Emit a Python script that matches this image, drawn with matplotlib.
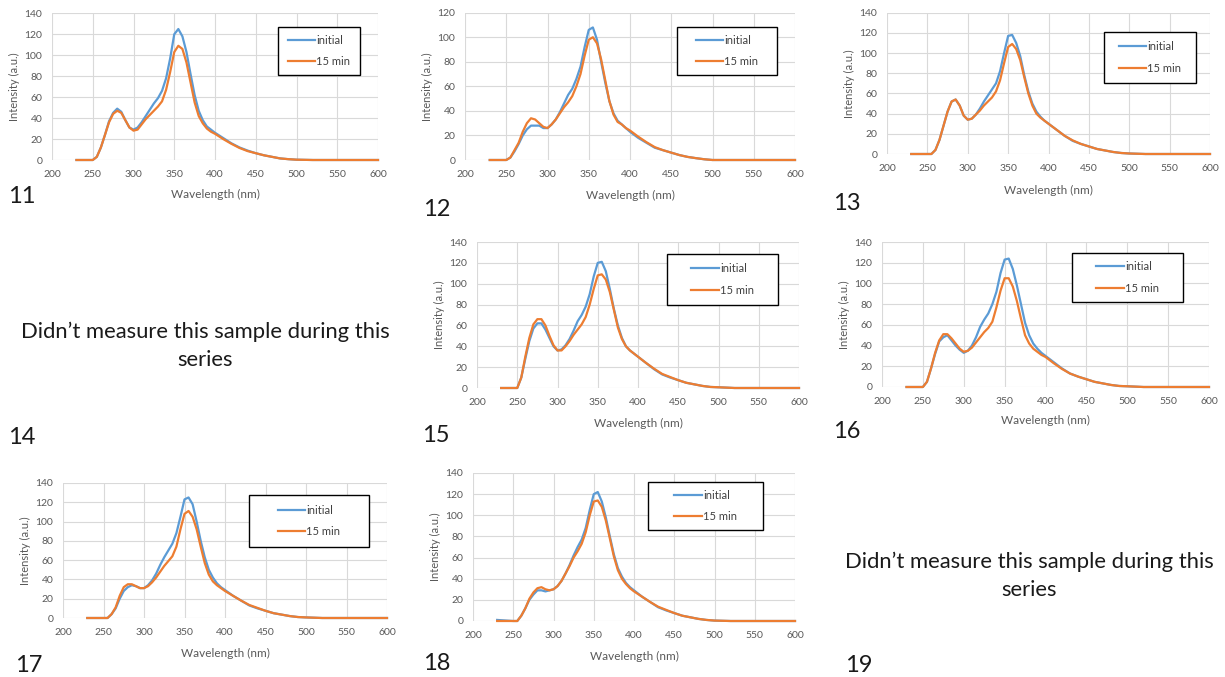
import matplotlib
matplotlib.use("Agg")
import matplotlib.pyplot as plt
from matplotlib.patches import Rectangle

plt.rcParams['font.family'] = ['Lato', 'DejaVu Sans']

W, H = 1225, 677
DPI = 100

# ---------------- data ----------------
wl = [230, 250, 255, 260, 265, 270, 275, 280, 285, 290, 295, 300, 305, 310, 315,
      320, 325, 330, 335, 340, 345, 350, 355, 360, 365, 370, 375, 380, 385, 390,
      395, 400, 410, 420, 430, 440, 450, 460, 470, 480, 490, 500, 520, 600]

s11_initial = [0, 0, 3, 12, 24, 37, 45, 49, 46, 38, 31, 29, 31, 36, 42,
               48, 54, 59, 66, 78, 97, 120, 125, 118, 103, 82, 62, 47, 38, 32,
               29, 26, 21, 16, 12, 9, 6.5, 4.5, 3, 1.5, 0.8, 0.3, 0, 0]
s11_15min = [0, 0, 3, 12, 24, 36, 44, 47, 45, 38, 31, 28, 29, 34, 39,
             43, 47, 51, 56, 67, 84, 103, 109, 106, 93, 74, 55, 42, 35, 30,
             27, 25, 20, 15.5, 11.5, 8.5, 6.5, 4.5, 3, 1.5, 0.8, 0.3, 0, 0]

s12_initial = [0, 0, 2, 7, 13, 20, 25, 28, 28, 28, 26, 26, 29, 33, 39,
               46, 53, 58, 66, 76, 92, 106, 108, 98, 80, 63, 48, 38, 32, 29,
               26, 23, 18, 14, 10, 8, 6, 4, 2.5, 1.5, 0.6, 0, 0, 0]
s12_15min = [0, 0, 2, 8, 14, 23, 30, 34, 33, 30, 27, 26, 29, 33, 38,
             43, 47, 52, 60, 70, 85, 98, 100, 95, 82, 65, 48, 37, 31, 29,
             26, 24, 19, 14.5, 10.5, 8, 6, 4, 2.5, 1.5, 0.6, 0, 0, 0]

s13_initial = [0, 0, 0, 4, 14, 28, 42, 52, 54, 48, 38, 34, 35, 39, 45,
               52, 58, 64, 70, 82, 100, 117, 118, 110, 97, 78, 62, 50, 42, 37,
               33, 30, 24, 18, 13, 10, 7.5, 5, 3.5, 2, 1, 0.5, 0, 0]
s13_15min = [0, 0, 0, 4, 14, 28, 42, 52, 54, 48, 38, 34, 35, 39, 43,
             48, 52, 56, 62, 73, 90, 106, 109, 104, 93, 76, 60, 48, 40, 36,
             33, 30, 24, 18, 13.5, 10, 7.5, 5, 3.5, 2, 1, 0.5, 0, 0]

s15_initial = [0, 0, 10, 28, 45, 57, 62, 62, 56, 48, 40, 36, 37, 41, 47,
               55, 64, 70, 78, 90, 107, 120, 121, 112, 95, 76, 60, 48, 40, 36,
               33, 30, 24, 18, 13, 10, 7.5, 5, 3.5, 2, 1, 0.7, 0, 0]
s15_15min = [0, 0, 10, 30, 48, 61, 66, 66, 60, 50, 41, 36, 36, 40, 45,
             51, 56, 61, 68, 80, 95, 108, 109, 104, 92, 75, 58, 47, 40, 36,
             33, 30, 24, 18.5, 13.5, 10.5, 7.5, 5, 3.5, 2, 1, 0.7, 0, 0]

s16_initial = [0, 0, 5, 18, 32, 44, 48, 50, 45, 40, 36, 33, 35, 40, 48,
               58, 65, 71, 80, 92, 110, 123, 124, 114, 98, 80, 62, 50, 42, 37,
               33, 30, 24, 18, 13, 10, 7.5, 5, 3.5, 2, 1, 0.7, 0, 0]
s16_15min = [0, 0, 5, 18, 33, 45, 51, 51, 47, 42, 37, 34, 35, 38, 43,
             48, 53, 57, 63, 77, 93, 105, 105, 97, 83, 66, 50, 42, 37, 34,
             31, 29, 23, 17.5, 13, 10, 7.5, 5, 3.5, 2, 1, 0.7, 0, 0]

s17_initial = [0, 0, 0, 4, 10, 20, 28, 32, 34, 33, 31, 31, 34, 39, 46,
               55, 63, 70, 77, 88, 105, 123, 125, 118, 100, 80, 63, 50, 42, 36,
               32, 29, 23, 18, 13, 10, 7.5, 5, 3.5, 2, 1, 0.6, 0, 0]
s17_15min = [0, 0, 0, 4, 11, 23, 32, 35, 35, 33, 31, 31, 33, 37, 42,
             48, 54, 59, 64, 74, 92, 108, 111, 105, 92, 74, 57, 45, 38, 34,
             31, 28, 23, 18, 13.5, 10.5, 7.5, 5, 3.5, 2, 1, 0.6, 0, 0]

s18_initial = [1, 0, 0, 5, 12, 20, 25, 29, 29, 28, 29, 30, 33, 38, 45,
               53, 62, 70, 77, 88, 105, 120, 122, 113, 98, 80, 63, 50, 42, 36,
               32, 29, 23, 18, 13, 10, 7.5, 5, 3.5, 2, 1, 0.4, 0, 0]
s18_15min = [0, 0, 0, 5, 12, 21, 27, 31, 32, 30, 29, 30, 33, 38, 45,
             52, 60, 66, 73, 84, 100, 113, 114, 108, 95, 78, 61, 48, 40, 35,
             31, 28, 23, 18, 13.5, 10.5, 7.5, 5, 3.5, 2, 1, 0.4, 0, 0]

sample_ids = ["11", "12", "13", "15", "16", "17", "18"]
series_initial = [s11_initial, s12_initial, s13_initial, s15_initial,
                  s16_initial, s17_initial, s18_initial]
series_15min = [s11_15min, s12_15min, s13_15min, s15_15min,
                s16_15min, s17_15min, s18_15min]
y_max = [140, 120, 140, 140, 140, 140, 140]
legend_labels = ["initial", "15 min"]
x_label = "Wavelength (nm)"
y_label = "Intensity (a.u.)"
missing_text = "Didn\u2019t measure this sample during this\nseries"
missing_ids = ["14", "19"]

# ---------------- layout (pixels) ----------------
axes_px = {
    "11": (52, 378, 13.3, 160),
    "12": (465, 795, 12.7, 160),
    "13": (887, 1210, 12.7, 154),
    "15": (477, 799, 242, 388),
    "16": (882, 1209, 242, 387),
    "17": (63, 387, 483, 618),
    "18": (473, 795, 473, 621),
}
legend_px = {
    "11": (278, 27, 360, 75),
    "12": (677, 27, 777, 75),
    "13": (1104, 32, 1196, 83),
    "15": (667, 254, 778, 305),
    "16": (1072, 253, 1183, 302),
    "17": (249, 495, 369, 547),
    "18": (648, 482, 763, 530),
}
num_px = {
    "11": (8, 196), "12": (423, 209), "13": (833, 204), "14": (8, 437),
    "15": (422, 436), "16": (833, 432), "17": (15, 665), "18": (423, 664),
    "19": (845, 665),
}
xlabel_y = {"11": 194, "12": 195, "13": 190, "15": 423, "16": 420,
            "17": 653, "18": 656}
missing_px = {"14": (205, 346), "19": (1029, 576)}

BLUE = "#5B9BD5"
ORANGE = "#ED7D31"
GRID = "#D9D9D9"
TXT = "#595959"

fig = plt.figure(figsize=(W / DPI, H / DPI), dpi=DPI)
fig.patch.set_facecolor("white")


def fx(x):
    return x / W


def fy(y):
    return 1 - y / H


for sid, yi, yf, ym in zip(sample_ids, series_initial, series_15min, y_max):
    x0, x1, yt, yb = axes_px[sid]
    ax = fig.add_axes([fx(x0), fy(yb), (x1 - x0) / W, (yb - yt) / H])
    ax.set_xlim(200, 600)
    ax.set_ylim(0, ym)
    ax.set_xticks(range(200, 601, 50))
    ax.set_yticks(range(0, ym + 1, 20))
    ax.grid(True, color=GRID, linewidth=0.8)
    ax.set_axisbelow(True)
    for s in ax.spines.values():
        s.set_visible(False)
    ax.tick_params(length=0, labelsize=7.5, labelcolor=TXT, pad=7)
    l1, = ax.plot(wl, yi, color=BLUE, lw=1.6, clip_on=False)
    l2, = ax.plot(wl, yf, color=ORANGE, lw=1.6, clip_on=False)
    ax.set_ylabel(y_label, fontsize=8, color=TXT, labelpad=3)
    fig.text(fx((x0 + x1) / 2), fy(xlabel_y[sid]), x_label, fontsize=8.5,
             color=TXT, ha="center", va="center")
    lx0, ly0, lx1, ly1 = legend_px[sid]
    fig.patches.append(Rectangle((fx(lx0), fy(ly1)), (lx1 - lx0) / W,
                                 (ly1 - ly0) / H, transform=fig.transFigure,
                                 facecolor="white", edgecolor="black",
                                 linewidth=1.0, zorder=5))
    leg = fig.legend([l1, l2], legend_labels, loc="center",
                     bbox_to_anchor=(fx((lx0 + lx1) / 2), fy((ly0 + ly1) / 2)),
                     frameon=False, fontsize=8, handlelength=2.5,
                     handletextpad=0.1, labelspacing=0.95)
    leg.set_zorder(6)
    for t in leg.get_texts():
        t.set_color("#404040")

for sid, (x, y) in num_px.items():
    fig.text(fx(x), fy(y), sid, fontsize=17, color="#1a1a1a",
             ha="left", va="center")

for mid, (x, y) in missing_px.items():
    fig.text(fx(x), fy(y), missing_text, fontsize=15.8, color="#1a1a1a",
             ha="center", va="center", linespacing=1.5)

fig.savefig("out.png", dpi=DPI, facecolor="white")
